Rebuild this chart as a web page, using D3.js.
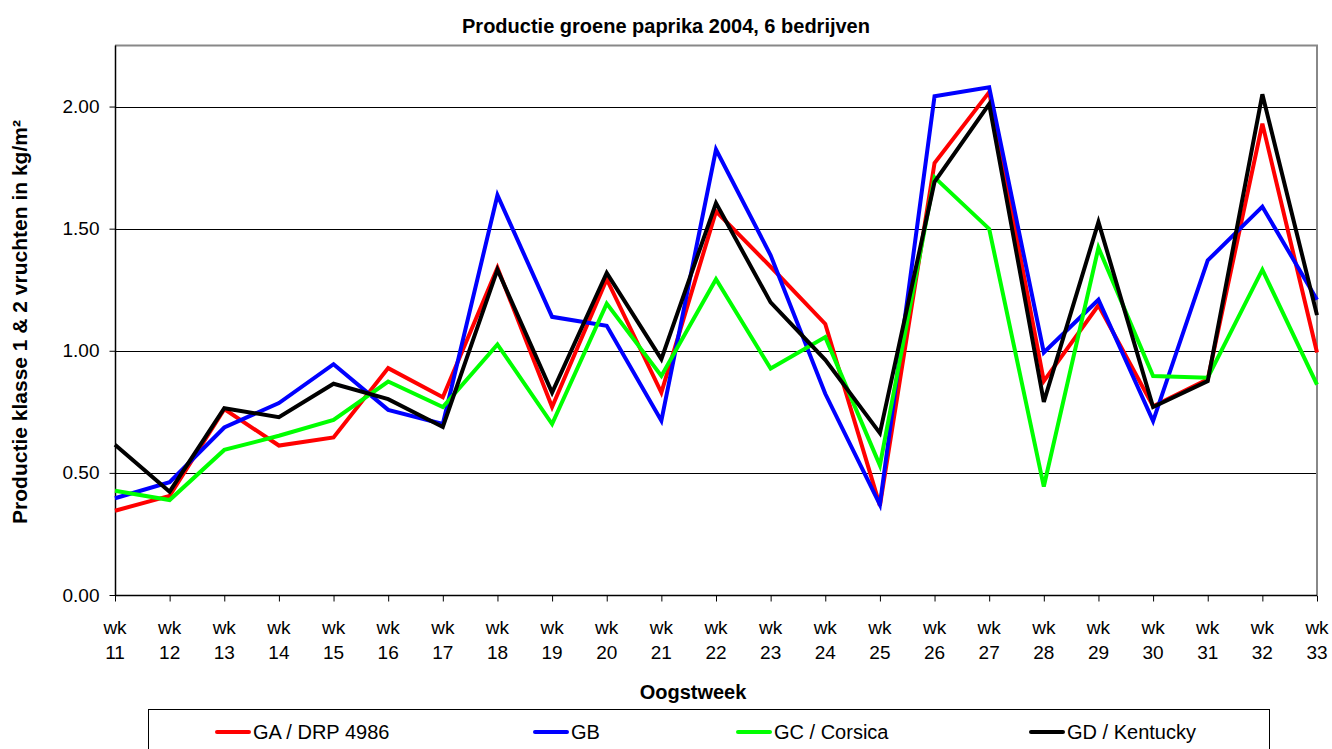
<!DOCTYPE html>
<html>
<head>
<meta charset="utf-8">
<script src="https://cdn.jsdelivr.net/npm/d3@7"></script>
<style>
  body { margin: 0; background: #fff; }
  svg { font-family: "Liberation Sans", Arial, sans-serif; }
</style>
</head>
<body>
<svg width="1332" height="749"></svg>
<script>
// weeks on the x axis
var weeks = [11, 12, 13, 14, 15, 16, 17, 18, 19, 20, 21, 22, 23, 24, 25, 26, 27, 28, 29, 30, 31, 32, 33];

// production per week, kg/m2
var ga = [0.345, 0.406, 0.761, 0.612, 0.645, 0.929, 0.810, 1.340, 0.770, 1.293, 0.829, 1.571, 1.344, 1.110, 0.366, 1.769, 2.059, 0.876, 1.186, 0.773, 0.883, 1.930, 0.993];
var gb = [0.396, 0.462, 0.686, 0.786, 0.945, 0.758, 0.700, 1.637, 1.139, 1.102, 0.714, 1.824, 1.391, 0.824, 0.370, 2.042, 2.079, 0.993, 1.209, 0.712, 1.370, 1.590, 1.209];
var gc = [0.427, 0.389, 0.594, 0.652, 0.717, 0.874, 0.770, 1.026, 0.700, 1.193, 0.897, 1.293, 0.927, 1.056, 0.531, 1.710, 1.499, 0.444, 1.422, 0.897, 0.890, 1.332, 0.861];
var gd = [0.615, 0.423, 0.765, 0.728, 0.865, 0.802, 0.688, 1.332, 0.829, 1.319, 0.966, 1.605, 1.198, 0.963, 0.663, 1.692, 2.010, 0.791, 1.527, 0.770, 0.876, 2.050, 1.146];

var seriesNames = ["GA / DRP 4986", "GB", "GC / Corsica", "GD / Kentucky"];
var seriesColors = ["#ff0000", "#0000ff", "#00ff00", "#000000"];
var yTicks = [0, 0.5, 1.0, 1.5, 2.0];

var series = [ga, gb, gc, gd].map(function(vals, i) {
    return {name: seriesNames[i], color: seriesColors[i], values: vals};
});

var svg = d3.select("svg");
var plotLeft = 115, plotRight = 1317, plotTop = 45.5, plotBottom = 595;

var x = d3.scalePoint().domain(weeks).range([plotLeft, plotRight]);
var y = d3.scaleLinear().domain([0, 2.25]).range([plotBottom, plotTop]);

// gridlines
svg.append("g").selectAll("line")
    .data(yTicks.filter(function(d) { return d > 0; }))
    .enter().append("line")
    .attr("x1", plotLeft).attr("x2", plotRight)
    .attr("y1", function(d) { return Math.round(y(d)) + 0.5; })
    .attr("y2", function(d) { return Math.round(y(d)) + 0.5; })
    .attr("stroke", "#000").attr("stroke-width", 1);

// plot border top / right (grey)
svg.append("path")
    .attr("d", "M" + plotLeft + "," + plotTop + "H" + plotRight + "V" + plotBottom)
    .attr("fill", "none").attr("stroke", "#888").attr("stroke-width", 2);

// y axis
var yAxis = svg.append("g")
    .attr("transform", "translate(" + (plotLeft + 0.5) + ",0)")
    .call(d3.axisLeft(y).tickValues(yTicks).tickSize(6).tickPadding(10)
        .tickFormat(d3.format(".2f")));
yAxis.select(".domain").attr("stroke", "#000").attr("stroke-width", 1.5)
    .attr("d", "M0," + plotTop + "V" + plotBottom);
yAxis.selectAll("text").attr("font-size", 19).attr("fill", "#000")
    .attr("font-family", "Liberation Sans, Arial, sans-serif");

// x axis
var xAxis = svg.append("g")
    .attr("transform", "translate(0," + (plotBottom + 0.5) + ")")
    .call(d3.axisBottom(x).tickSize(6).tickFormat(""));
xAxis.select(".domain").attr("stroke", "#000").attr("stroke-width", 1.5)
    .attr("d", "M" + plotLeft + ",0H" + plotRight);

var xl = svg.append("g").selectAll("text")
    .data(weeks).enter().append("text")
    .attr("text-anchor", "middle")
    .attr("font-size", 19).attr("fill", "#000");
xl.append("tspan").attr("x", function(d) { return x(d); }).attr("y", 634).text("wk");
xl.append("tspan").attr("x", function(d) { return x(d); }).attr("y", 659).text(function(d) { return d; });

// lines
var line = d3.line()
    .x(function(d, i) { return x(weeks[i]); })
    .y(function(d) { return y(d); });

svg.append("g").selectAll("path")
    .data(series).enter().append("path")
    .attr("d", function(s) { return line(s.values); })
    .attr("fill", "none")
    .attr("stroke", function(s) { return s.color; })
    .attr("stroke-width", 4)
    .attr("stroke-linejoin", "miter");

// title
svg.append("text")
    .attr("x", 666).attr("y", 33)
    .attr("text-anchor", "middle")
    .attr("font-size", 20).attr("font-weight", "bold")
    .text("Productie groene paprika 2004, 6 bedrijven");

// axis titles
svg.append("text")
    .attr("transform", "translate(27,322) rotate(-90)")
    .attr("text-anchor", "middle")
    .attr("font-size", 21).attr("font-weight", "bold")
    .text("Productie klasse 1 & 2 vruchten in kg/m²");

svg.append("text")
    .attr("x", 693).attr("y", 699)
    .attr("text-anchor", "middle")
    .attr("font-size", 20).attr("font-weight", "bold")
    .text("Oogstweek");

// legend
svg.append("rect")
    .attr("x", 148.5).attr("y", 709.5)
    .attr("width", 1121).attr("height", 50)
    .attr("fill", "#fff").attr("stroke", "#000").attr("stroke-width", 1);

var legendX = [215, 533, 736, 1029];
var lg = svg.append("g").selectAll("g")
    .data(series).enter().append("g")
    .attr("transform", function(s, i) { return "translate(" + legendX[i] + ",732)"; });
lg.append("line")
    .attr("x1", 2).attr("x2", 34)
    .attr("stroke", function(s) { return s.color; })
    .attr("stroke-width", 4).attr("stroke-linecap", "round");
lg.append("text")
    .attr("x", 38).attr("y", 7)
    .attr("font-size", 20).attr("fill", "#000")
    .text(function(s) { return s.name; });
</script>
</body>
</html>
